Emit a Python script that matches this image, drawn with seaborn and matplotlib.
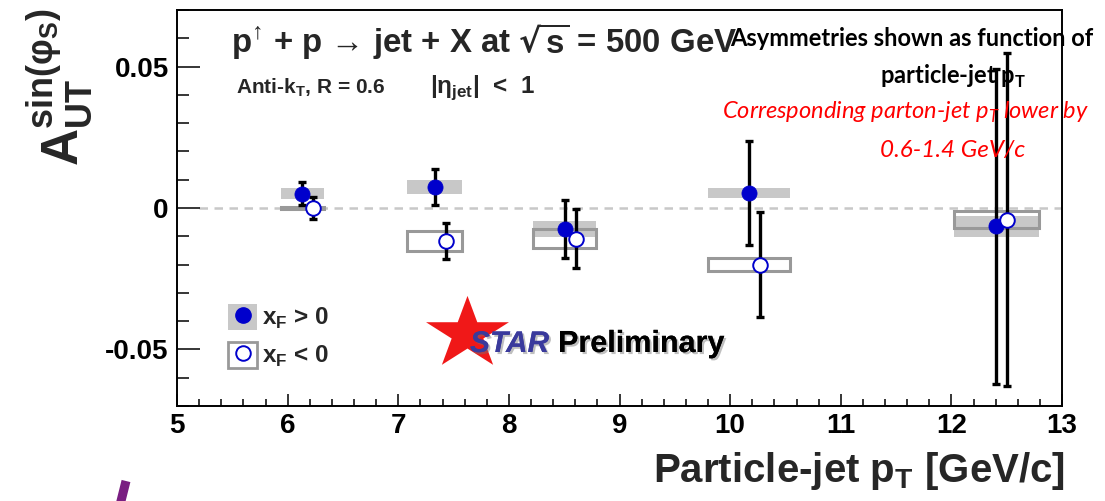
import numpy as np
import pandas as pd
import matplotlib
matplotlib.use("Agg")
import matplotlib.pyplot as plt
from matplotlib.patches import Rectangle, Polygon
from matplotlib.lines import Line2D
from matplotlib.legend_handler import HandlerTuple
from matplotlib.ticker import MultipleLocator
import matplotlib.patheffects as pe
import seaborn as sns

# Particle-jet pT (GeV/c), asymmetry, statistical and systematic uncertainties
pt_fwd = [6.13, 7.33, 8.51, 10.17, 12.40]
a_fwd = [0.0051, 0.0074, -0.0075, 0.0053, -0.0065]
stat_fwd = [0.0040, 0.0064, 0.0103, 0.0185, 0.0558]
sys_fwd = [0.0020, 0.0025, 0.0028, 0.0017, 0.0036]

pt_bwd = [6.23, 7.43, 8.61, 10.27, 12.50]
a_bwd = [0.0000, -0.0118, -0.0108, -0.0200, -0.0041]
stat_bwd = [0.0039, 0.0064, 0.0103, 0.0187, 0.0588]
sys_bwd = [0.0005, 0.0035, 0.0032, 0.0023, 0.0031]

# horizontal extent of the systematic-uncertainty boxes
bin_lo = [5.94, 7.08, 8.22, 9.80, 12.02]
bin_hi = [6.33, 7.58, 8.79, 10.54, 12.79]

x_ticks = [5, 6, 7, 8, 9, 10, 11, 12, 13]
x_tick_labels = ["5", "6", "7", "8", "9", "10", "11", "12", "13"]
y_ticks = [-0.05, 0.0, 0.05]
y_tick_labels = ["-0.05", "0", "0.05"]

legend_labels = [r"x$_\mathregular{F}$ > 0", r"x$_\mathregular{F}$ < 0"]

BLUE = "#0000cc"
SYS_FILL = "#c8c8c8"
SYS_EDGE = "#999999"

sns.set_theme(style="white")
plt.rcParams["font.family"] = ["Liberation Sans", "DejaVu Sans"]
plt.rcParams["font.weight"] = "bold"
plt.rcParams["mathtext.fontset"] = "dejavusans"

W, H = 1105, 501
fig = plt.figure(figsize=(W / 100, H / 100), dpi=100)
fig.patch.set_facecolor("white")


def fx(px):
    return px / W


def fy(py):
    return 1 - py / H


ax = fig.add_axes([fx(177), fy(406), (1062 - 177) / W, (406 - 10) / H])
ax.set_facecolor("white")

# zero reference line
ax.plot([5.2, 13], [0, 0], color="#c8c8c8", lw=1.8, dashes=(3.4, 2.6), zorder=0.5)

# systematic boxes
for lo, hi, a, s in zip(bin_lo, bin_hi, a_fwd, sys_fwd):
    ax.add_patch(Rectangle((lo, a - s), hi - lo, 2 * s, facecolor=SYS_FILL,
                           edgecolor="none", zorder=1))
for lo, hi, a, s in zip(bin_lo, bin_hi, a_bwd, sys_bwd):
    ax.add_patch(Rectangle((lo, a - s), hi - lo, 2 * s, facecolor="none",
                           edgecolor=SYS_EDGE, lw=2.2, zorder=1.5))

# statistical error bars
for pts, vals, errs in [(pt_fwd, a_fwd, stat_fwd), (pt_bwd, a_bwd, stat_bwd)]:
    ax.errorbar(pts, vals, yerr=errs, fmt="none", ecolor="black",
                elinewidth=2.4, capsize=3.2, capthick=2.4, zorder=3)

df_fwd = pd.DataFrame({"pt": pt_fwd, "a": a_fwd})
df_bwd = pd.DataFrame({"pt": pt_bwd, "a": a_bwd})
sns.scatterplot(data=df_fwd, x="pt", y="a", ax=ax, marker="o", s=118,
                color=BLUE, edgecolor=BLUE, linewidth=0.6, zorder=4)
sns.scatterplot(data=df_bwd, x="pt", y="a", ax=ax, marker="o", s=110,
                color="white", edgecolor=BLUE, linewidth=1.4, zorder=4)

ax.set_xlim(5, 13)
ax.set_ylim(-0.07, 0.07)
ax.set_xticks(x_ticks)
ax.set_xticklabels(x_tick_labels)
ax.set_yticks(y_ticks)
ax.set_yticklabels(y_tick_labels)
ax.xaxis.set_minor_locator(MultipleLocator(0.2))
ax.yaxis.set_minor_locator(MultipleLocator(0.01))
ax.tick_params(axis="x", which="major", direction="in", length=8.6, width=1.1,
               color="black", labelsize=20, pad=5, labelcolor="black")
ax.tick_params(axis="x", which="minor", direction="in", length=5, width=1.1,
               color="black")
ax.tick_params(axis="y", which="major", direction="in", length=16.5, width=1.1,
               color="black", labelsize=20, pad=6, labelcolor="black")
ax.tick_params(axis="y", which="minor", direction="in", length=8.6, width=1.1,
               color="black")
ax.tick_params(bottom=True, left=True, top=False, right=False, which="both")
for sp in ax.spines.values():
    sp.set_color("black")
    sp.set_linewidth(1.4)
ax.set_xlabel("")
ax.set_ylabel("")

# axis titles
fig.text(fx(1065), fy(482), r"Particle-jet p$_\mathregular{T}$ [GeV/c]",
         ha="right", va="baseline", fontsize=29, fontweight="bold")
fig.text(fx(60), fy(8),
         r"$\mathregular{A}_{\mathregular{UT}}^{\mathregular{sin(φ}_{\mathregular{S}}\mathregular{)}}$",
         rotation=90, ha="center", va="top", fontsize=37, fontweight="bold")

# process / selection captions
fig.text(fx(231), fy(53), r"p$^{\mathregular{↑}}$ + p → jet + X at $\sqrt{\mathregular{s}}$ = 500 GeV",
         ha="left", va="baseline", fontsize=23.8, fontweight="bold")
fig.text(fx(236), fy(93), r"Anti-k$_\mathregular{T}$, R = 0.6",
         ha="left", va="baseline", fontsize=15, fontweight="bold")
fig.text(fx(430), fy(93), r"|η$_\mathregular{jet}$|  <  1",
         ha="left", va="baseline", fontsize=17.5, fontweight="bold")

# notes on the right
note_font = ["Lato", "DejaVu Sans"]
fig.text(fx(730), fy(46), "Asymmetries shown as function of", family=note_font,
         ha="left", va="baseline", fontsize=17, fontweight="bold", color="black")
fig.text(fx(953), fy(84), r"particle-jet p$_\mathregular{T}$", family=note_font,
         ha="center", va="baseline", fontsize=17, fontweight="bold", color="black")
fig.text(fx(722), fy(119), r"Corresponding parton-jet p$_\mathregular{T}$ lower by",
         family=note_font, ha="left", va="baseline", fontsize=17,
         fontweight="normal", style="italic", color="#ff0000")
fig.text(fx(953), fy(157), "0.6-1.4 GeV/c", family=note_font,
         ha="center", va="baseline", fontsize=17.5, fontweight="normal",
         style="italic", color="#ff0000")

# legend
h_fwd = (Rectangle((0, 0), 1, 1, facecolor=SYS_FILL, edgecolor="none"),
         Line2D([], [], marker="o", ls="none", color=BLUE, markersize=11))
h_bwd = (Rectangle((0, 0), 1, 1, facecolor="white", edgecolor=SYS_EDGE, lw=2),
         Line2D([], [], marker="o", ls="none", markerfacecolor="white",
                markeredgecolor=BLUE, markeredgewidth=1.4, markersize=10.5))
ax.legend([h_fwd, h_bwd], legend_labels,
          handler_map={tuple: HandlerTuple(ndivide=1, pad=0)},
          loc="upper left", bbox_to_anchor=(fx(228), fy(304)),
          bbox_transform=fig.transFigure, frameon=False, fontsize=17.5,
          handlelength=1.2, handleheight=1.25, handletextpad=0.2,
          labelspacing=0.45, borderpad=0, borderaxespad=0)

# STAR Preliminary logo
cx, cy, rx, ry = 467.5, 334, 43.6, 38.1
ang = np.pi / 2 + np.arange(10) * np.pi / 5
rad = np.where(np.arange(10) % 2 == 0, 1.0, 0.382)
star_xy = np.column_stack([fx(cx + rx * rad * np.cos(ang)),
                           fy(cy - ry * rad * np.sin(ang))])
fig.add_artist(Polygon(star_xy, closed=True, transform=fig.transFigure,
                       facecolor="#f01818", edgecolor="none", zorder=5))


def logo_shadow():
    return [pe.withSimplePatchShadow(offset=(1.5, -1.5), shadow_rgbFace="0.45",
                                     alpha=0.45), pe.Normal()]


t1 = fig.text(fx(470), fy(352), "STAR", ha="left", va="baseline", fontsize=21.5,
              fontweight="bold", style="italic", color="#3a3a9c", zorder=6)
t1.set_path_effects(logo_shadow())
t2 = fig.text(fx(558), fy(352), "Preliminary", ha="left", va="baseline", fontsize=22,
              fontweight="bold", color="black", zorder=6)
t2.set_path_effects(logo_shadow())

# slide accent stroke
fig.add_artist(Line2D([fx(126), fx(120.5)], [fy(481), fy(503)], color="#7a1e82",
                      lw=6.5, solid_capstyle="butt"))

fig.savefig("out.png", dpi=100, facecolor="white")
